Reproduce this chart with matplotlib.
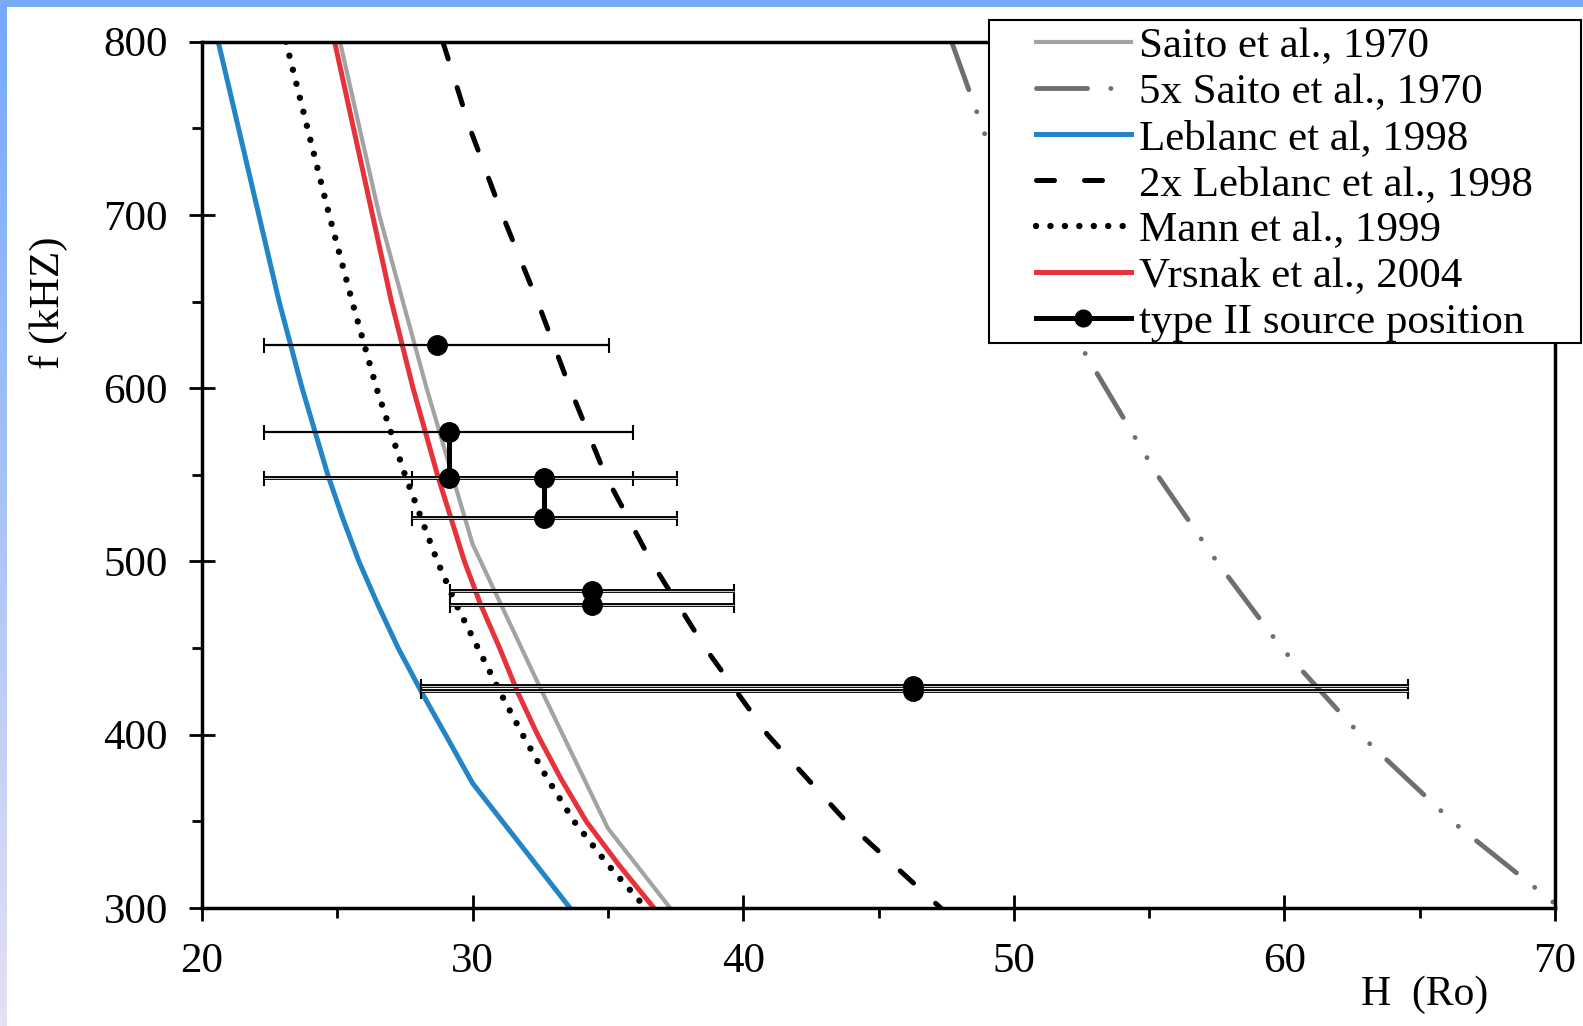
import matplotlib
matplotlib.use('Agg')
import matplotlib.pyplot as plt
from matplotlib.lines import Line2D
from matplotlib.patches import Rectangle
from matplotlib.colors import LinearSegmentedColormap
import numpy as np

plt.rcParams['font.family'] = ['Liberation Serif', 'DejaVu Serif']

# density models: heliocentric height (Ro) vs plasma frequency (kHz)
saito_f = [800, 700, 600, 510, 427, 346, 300]
saito_h = [25.1, 26.55, 28.3, 30.0, 32.5, 35.0, 37.3]

saito5_f = [800, 750, 700, 650, 600, 550, 500, 450, 400, 350, 300]
saito5_h = [47.7, 48.85, 50.0, 51.5, 53.4, 55.3, 57.5, 59.9, 62.8, 66.2, 70.2]

leb_f = [800, 750, 700, 650, 600, 550, 525, 500, 475, 450, 425, 400, 372, 300]
leb_h = [20.6, 21.35, 22.1, 22.85, 23.7, 24.65, 25.2, 25.8, 26.5, 27.25, 28.1, 29.0, 30.0, 33.6]

leb2_f = [800, 750, 700, 650, 600, 550, 500, 450, 400, 350, 300]
leb2_h = [28.9, 29.9, 31.1, 32.4, 33.6, 34.9, 36.6, 38.6, 40.9, 43.8, 47.3]

mann_f = [800, 750, 700, 650, 600, 550, 525, 500, 475, 450, 425, 400, 375, 350, 325, 300]
mann_h = [23.1, 23.9, 24.7, 25.55, 26.45, 27.5, 28.1, 28.7, 29.4, 30.2, 31.0, 31.85,
          32.75, 33.75, 35.0, 36.4]

vrs_f = [800, 750, 700, 650, 600, 575, 550, 525, 500, 475, 450, 425, 400, 375, 350, 325, 300]
vrs_h = [24.9, 25.6, 26.3, 27.0, 27.8, 28.25, 28.7, 29.2, 29.7, 30.3, 31.0, 31.65, 32.4,
         33.25, 34.2, 35.4, 36.7]

# type II source positions with height ranges
src_f = [625, 575, 548, 548, 525, 483, 475, 428, 425]
src_h = [28.67, 29.13, 29.13, 32.63, 32.63, 34.43, 34.43, 46.28, 46.28]
src_lo = [22.29, 22.29, 22.29, 27.75, 27.75, 29.16, 29.16, 28.1, 28.1]
src_hi = [35.05, 35.91, 35.91, 37.54, 37.54, 39.66, 39.66, 64.55, 64.55]
src_pairs = [(1, 2), (3, 4), (5, 6), (7, 8)]

W, H = 1583, 1026
FS = 31
fig = plt.figure(figsize=(W / 100, H / 100), dpi=100)


def fx(px):
    return px / W


def fy(py):
    return 1 - py / H


ax = fig.add_axes([fx(202), fy(908), (1555 - 202) / W, (908 - 41.7) / H])

ax.plot(saito_h, saito_f, color='#a3a3a3', lw=3.0, solid_capstyle='butt')
ax.plot(saito5_h, saito5_f, color='#6f6f6f', lw=3.5,
        dashes=(10.5, 4.8, 0.01, 4.8, 0.01, 4.8), dash_capstyle='round')
ax.plot(leb_h, leb_f, color='#2385c6', lw=3.6)
ax.plot(leb2_h, leb2_f, color='k', lw=3.6, dashes=(3.6, 6.0), dash_capstyle='round')
ax.plot(mann_h, mann_f, color='k', lw=4.6, dashes=(0.01, 2.25), dash_capstyle='round')
ax.plot(vrs_h, vrs_f, color='#e6333b', lw=3.6)

# error bars, the lower ones drawn as a hollow double line
for i in range(len(src_f)):
    err = [[src_h[i] - src_lo[i]], [src_hi[i] - src_h[i]]]
    lw = 1.6 if i < 2 else 2.8
    ax.errorbar([src_h[i]], [src_f[i]], xerr=err, fmt='none', ecolor='k',
                elinewidth=lw, capsize=5.4, capthick=1.5, zorder=4)
    if i >= 2:
        ax.hlines(src_f[i], src_lo[i], src_hi[i], color='#c8c8c8', lw=0.8, zorder=4.5)
for a, b in src_pairs:
    ax.plot([src_h[a], src_h[b]], [src_f[a], src_f[b]], color='k', lw=3.6, zorder=5)
ax.plot(src_h, src_f, 'o', color='k', ms=14, zorder=6)

ax.set_xlim(20, 70)
ax.set_ylim(300, 800)
ax.set_xticks(range(20, 71, 10))
ax.set_xticks(range(25, 70, 10), minor=True)
ax.set_yticks(range(300, 801, 100))
ax.set_yticks(range(350, 800, 100), minor=True)
ax.tick_params(which='major', direction='inout', length=19, width=2, pad=15,
               labelsize=FS, colors='k')
ax.tick_params(which='minor', direction='out', length=7, width=2)
for s in ax.spines.values():
    s.set_linewidth(2.5)

fig.text(fx(48), fy(303), 'f (kHZ)', rotation=90, ha='center', va='center', fontsize=FS)
fig.text(fx(1425), fy(995), 'H  (Ro)', ha='center', va='center', fontsize=30)

# legend
handles = [
    Line2D([], [], color='#a3a3a3', lw=3.0),
    Line2D([], [], color='#6f6f6f', lw=3.5, dashes=(10.5, 4.8, 0.01, 4.8), dash_capstyle='round'),
    Line2D([], [], color='#2385c6', lw=3.6),
    Line2D([], [], color='k', lw=3.6, dashes=(3.6, 6.0), dash_capstyle='round'),
    Line2D([], [], color='k', lw=4.6, dashes=(0.01, 2.25), dash_capstyle='round'),
    Line2D([], [], color='#e6333b', lw=3.6),
    Line2D([], [], color='k', lw=3.6, marker='o', ms=12),
]
labels = ['Saito et al., 1970', '5x Saito et al., 1970', 'Leblanc et al, 1998',
          '2x Leblanc et al., 1998', 'Mann et al., 1999', 'Vrsnak et al., 2004',
          'type II source position']
fig.patches.append(Rectangle((fx(989), fy(343)), (1581 - 989) / W, (343 - 20) / H,
                             transform=fig.transFigure, facecolor='white',
                             edgecolor='k', lw=1.5, zorder=3))
fig.legend(handles, labels, loc='upper left', bbox_to_anchor=(fx(1036), fy(27)),
           bbox_transform=fig.transFigure, frameon=False, fontsize=FS,
           handlelength=2.2, handletextpad=0.19, labelspacing=0.16,
           borderpad=0, borderaxespad=0)

# blue frame along the top and left edge
grad = LinearSegmentedColormap.from_list('edge', ['#74a8ff', '#a9c4f4', '#e6e0f5'])
sx = fig.add_axes([0, 0, 7 / W, 1])
sx.imshow(np.linspace(0, 1, 256).reshape(-1, 1), aspect='auto', cmap=grad)
sx.axis('off')
fig.patches.append(Rectangle((0, fy(7)), 1, 7 / H, transform=fig.transFigure,
                             facecolor='#78aaf8', edgecolor='none', zorder=10))

fig.savefig('out.png', dpi=100)
